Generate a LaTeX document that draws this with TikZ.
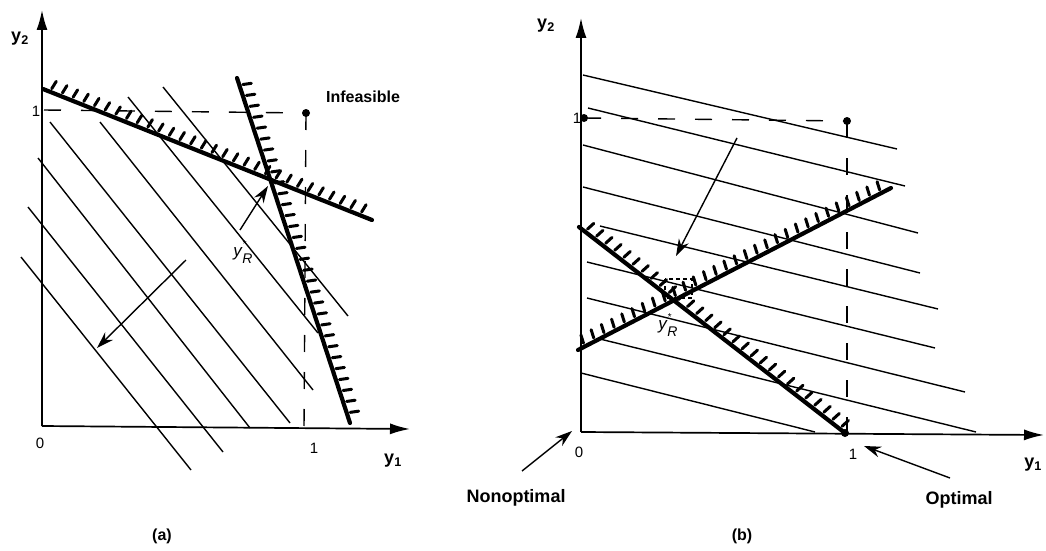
\documentclass[tikz,border=0pt]{standalone}
\usepackage{fontspec}
\setmainfont{Liberation Sans}
\usetikzlibrary{arrows.meta,decorations.markings}
\begin{document}
\begin{tikzpicture}[x=1pt,y=-1pt,
  thinline/.style={line width=1.4pt},
  axisline/.style={line width=1.7pt,-{Latex[length=20pt,width=11pt]}},
  ptr/.style={line width=1.4pt,-{Stealth[length=17pt,width=11pt]}},
  dashline/.style={line width=1.4pt,dash pattern=on 17pt off 20pt},
  hatched/.style={line width=4.2pt,line cap=round,
    postaction={decorate,decoration={markings,
      mark=between positions 8pt and -6pt step 11.5pt with
      {\draw[line width=3pt] (0pt,3.5pt) -- (1.5pt,12pt);}}}},
  boldlab/.style={font=\fontsize{16}{16}\selectfont\bfseries},
  biglab/.style={font=\fontsize{18}{18}\selectfont\bfseries},
  numlab/.style={font=\fontsize{15}{15}\selectfont},
  ylab/.style={font=\fontsize{17}{17}\selectfont\itshape},
  dotmark/.style={fill=black}]
\useasboundingbox (0,0) rectangle (1046,551);

% ================= panel (a) =================
\coordinate (aO) at (42,426);
\coordinate (aYtop) at (42,10);
\coordinate (aXend) at (410,429);
\draw[axisline] (aO) -- (aYtop);
\draw[axisline] (aO) -- (aXend);

% objective lines
\draw[thinline] (21,257) -- (191,470);
\draw[thinline] (28,207) -- (223,452);
\draw[thinline] (38,158) -- (250,428);
\draw[thinline] (50,122) -- (290,423);
\draw[thinline] (100,122) -- (313,390);
\draw[thinline] (128,97) -- (318,333);
\draw[thinline] (163,87) -- (348,316);

% dashed box to infeasible point
\coordinate (aP) at (306,113);
\draw[dashline] (44,110) -- (aP);
\draw[dashline] (aP) -- (304,428);
\fill[dotmark] (aP) circle (4pt);

% constraints
\coordinate (aC1s) at (43,89);
\coordinate (aC1e) at (372,220);
\coordinate (aC2s) at (237,78);
\coordinate (aC2e) at (350,423);
\draw[hatched] (aC1s) -- (aC1e);
\draw[hatched] (aC2s) -- (aC2e);

% arrows
\coordinate (aYRt) at (240,230);
\coordinate (aYRh) at (268,186);
\draw[ptr] (aYRt) -- (aYRh);
\coordinate (aGt) at (186,260);
\coordinate (aGh) at (97,348);
\draw[ptr] (aGt) -- (aGh);

% labels
\node[biglab] (ay2) at (20,39) {y\textsubscript{2}};
\node[biglab] (ay1) at (393,461) {y\textsubscript{1}};
\node[numlab] (a0) at (40,443) {0};
\node[numlab] (a1x) at (314,448) {1};
\node[numlab] (a1y) at (36,111) {1};
\node[boldlab] (infeas) at (363,97) {Infeasible};
\node[ylab] (ayR) at (243,252) {y\kern0.5pt\raisebox{9.5pt}{\rlap{\fontsize{10}{10}\selectfont *}}\raisebox{-6.5pt}{\fontsize{14}{14}\selectfont R}};
\node[boldlab] (acap) at (162,536) {(a)};

% ================= panel (b) =================
\coordinate (bO) at (581,432);
\coordinate (bYtop) at (581,18);
\coordinate (bXend) at (1044,435);
\draw[axisline] (bO) -- (bYtop);
\draw[axisline] (bO) -- (bXend);

% objective lines
\draw[thinline] (583,75) -- (897,149);
\draw[thinline] (588,108) -- (905,186);
\draw[thinline] (583,145) -- (918,233);
\draw[thinline] (583,187) -- (920,273);
\draw[thinline] (600,226) -- (938,309);
\draw[thinline] (587,262) -- (935,348);
\draw[thinline] (587,298) -- (965,392);
\draw[thinline] (600,339) -- (976,432);
\draw[thinline] (581,373) -- (815,432);

% dashed lines
\coordinate (bQ) at (584,118);
\coordinate (bP) at (847,121);
\draw[dashline] (bQ) -- (bP);
\draw[dashline] (bP) -- (847,432);
\fill[dotmark] (bQ) circle (4pt);
\fill[dotmark] (bP) circle (4pt);

% constraints
\coordinate (bAs) at (578,350);
\coordinate (bAe) at (891,188);
\coordinate (bBs) at (579,227);
\coordinate (bBe) at (845,433);
\draw[hatched] (bAs) -- (bAe);
\draw[hatched] (bBs) -- (bBe);
\fill[dotmark] (bBe) circle (4pt);
\draw[line width=2.4pt,dash pattern=on 4pt off 3pt] (665,279) rectangle (692,298);

% arrows
\coordinate (bGt) at (737,138);
\coordinate (bGh) at (676,256);
\draw[ptr] (bGt) -- (bGh);
\coordinate (bNt) at (522,471);
\coordinate (bNh) at (572,431);
\draw[ptr] (bNt) -- (bNh);
\coordinate (bOt) at (950,478);
\coordinate (bOh) at (864,446);
\draw[ptr] (bOt) -- (bOh);

% labels
\node[biglab] (by2) at (546,26) {y\textsubscript{2}};
\node[biglab] (by1) at (1033,465) {y\textsubscript{1}};
\node[numlab] (b0) at (579,452) {0};
\node[numlab] (b1x) at (853,454) {1};
\node[numlab] (b1y) at (577,118) {1};
\node[biglab] (nonopt) at (516,498) {Nonoptimal};
\node[biglab] (opt) at (959,500) {Optimal};
\node[ylab] (byR) at (668,325) {y\kern0.5pt\raisebox{9.5pt}{\rlap{\fontsize{10}{10}\selectfont *}}\raisebox{-6.5pt}{\fontsize{14}{14}\selectfont R}};
\node[boldlab] (bcap) at (742,536) {(b)};
\end{tikzpicture}
\end{document}
